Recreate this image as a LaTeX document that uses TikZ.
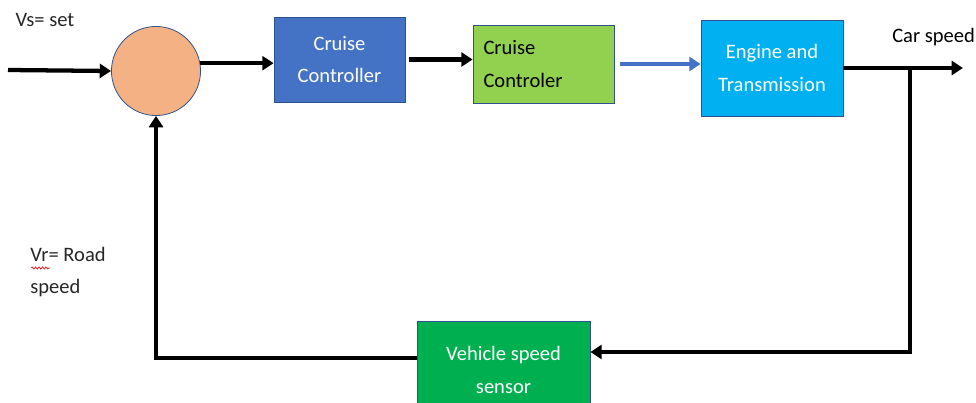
\documentclass[tikz,border=0pt]{standalone}
\usepackage{fontspec}
\setmainfont{Carlito}
\usetikzlibrary{arrows.meta,decorations.pathmorphing}
\definecolor{ctrlblue}{HTML}{4472C4}
\definecolor{ctrlgreen}{HTML}{92D050}
\definecolor{plantblue}{HTML}{00B0F0}
\definecolor{sensgreen}{HTML}{00B050}
\definecolor{sumorange}{HTML}{F4B183}
\definecolor{edgeblue}{HTML}{2F528F}
\begin{document}
\begin{tikzpicture}[x=0.75pt, y=-0.75pt,
  block/.style={draw=edgeblue, line width=0.6pt, minimum width=#1, inner sep=0pt, align=center,
    font=\fontsize{15.4}{24.5}\selectfont},
  sig/.style={line width=3.2pt, -{Triangle[length=8.5pt, width=10.5pt]}},
  lbl/.style={font=\fontsize{15.4}{24.5}\selectfont, text=black!85, inner sep=0pt}]
\clip (0,0) rectangle (976,403);
\node[draw=edgeblue, line width=0.6pt, fill=sumorange, circle, minimum size=66.8pt, inner sep=0pt] (sum) at (156,71) {};
\node[block=98.25pt, minimum height=63.75pt, fill=ctrlblue, text=white] (ctrl) at (339.5,59.5) {Cruise\\Controller};
\node[block=105.75pt, minimum height=58.5pt, fill=ctrlgreen, text=black, text width=90pt, align=left] (ctrlb) at (543.5,64) {Cruise\\Controler};
\node[block=106.5pt, minimum height=72pt, fill=plantblue, text=white] (plant) at (772,68) {Engine and\\Transmission};
\node[block=129.75pt, minimum height=73.5pt, fill=sensgreen, text=white] (sensor) at (503.5,370) {Vehicle speed\\sensor};
\node[lbl] (vs) at (45,20) {Vs= set};
\node[lbl, anchor=west, align=left] (vr) at (30,272) {Vr= Road\\speed};
\node[lbl, anchor=west, text=black] (car) at (892,37) {Car speed};
\coordinate (in) at (8,70);
\coordinate (out) at (963,68);
\coordinate (br) at (910,68);
\coordinate (corner) at (910,352);
\coordinate (fb) at (156,358);
\draw[red, line width=0.5pt, decorate, decoration={snake, amplitude=0.8pt, segment length=2.6pt}] (31,268) -- (50,268);
\draw[sig] (in) -- (sum.west);
\draw[sig] (sum.10) -- (sum.10 -| ctrl.west);
\draw[sig, shorten <=3pt] (ctrl.east) -- (ctrl.east -| ctrlb.west);
\draw[sig, color=ctrlblue, line width=2.4pt, shorten <=4.5pt] (ctrlb.east) -- (ctrlb.east -| plant.west);
\draw[sig] (plant.east) -- (out);
\draw[sig] (br) -- (corner) -- (corner -| sensor.east);
\draw[sig] (sensor.west |- fb) -- (fb) -- (sum.south);
\end{tikzpicture}
\end{document}
